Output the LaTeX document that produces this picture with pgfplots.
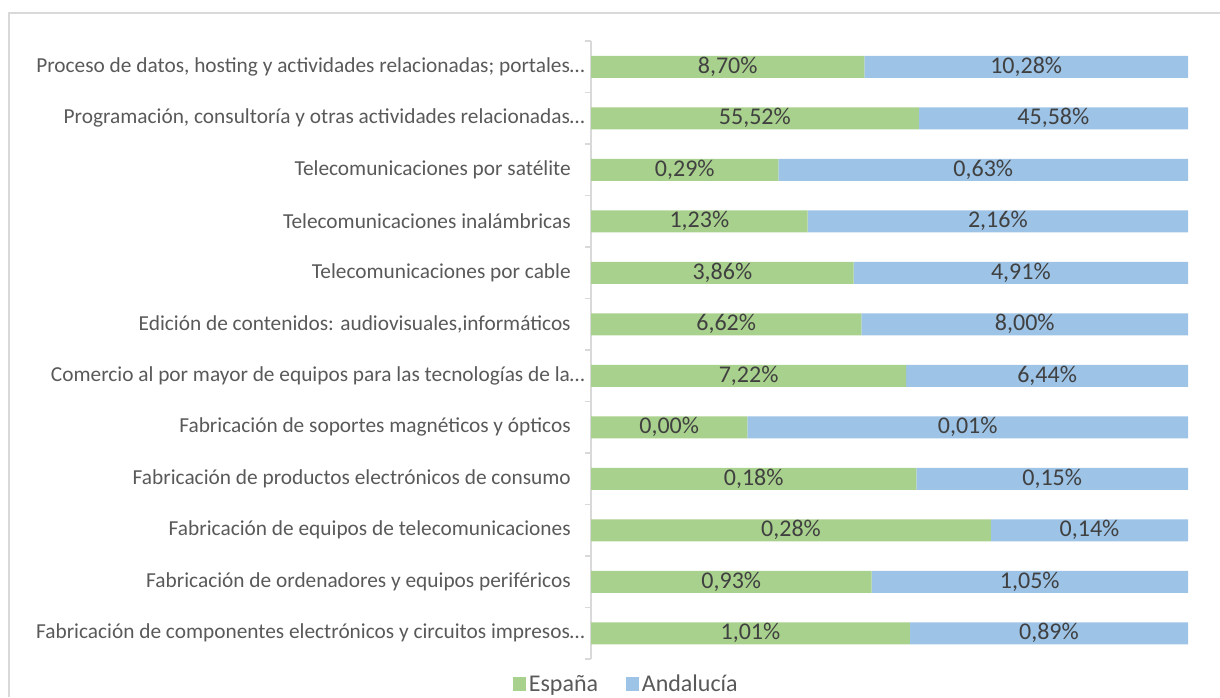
\documentclass[border=0pt]{standalone}
\usepackage{fontspec}
\setmainfont{Carlito}
\usepackage{pgfplots}
\usepackage{pgfplotstable}
\pgfplotsset{compat=1.18}
\definecolor{Verde}{HTML}{A9D18E}
\definecolor{Azul}{HTML}{9DC3E6}
\definecolor{Texto}{HTML}{404040}
\definecolor{Etiq}{HTML}{595959}
\definecolor{Linea}{HTML}{D9D9D9}
\newcommand\fs{\fontsize{16}{19}\selectfont}
\newcommand\fd{\fontsize{18}{21}\selectfont}
\newcommand\tr{\hspace*{10.5pt}}

% cuota de cada serie en la barra (100 %), centro de cada tramo y dato rotulado
\pgfplotstableread{
y  esp    and    espm    andm    lesp   land
0  0.458  0.542  0.229   0.729   8,70   10,28
1  0.549  0.451  0.2745  0.7745  55,52  45,58
2  0.314  0.686  0.157   0.657   0,29   0,63
3  0.363  0.637  0.1815  0.6815  1,23   2,16
4  0.440  0.560  0.220   0.720   3,86   4,91
5  0.453  0.547  0.2265  0.7265  6,62   8,00
6  0.528  0.472  0.264   0.764   7,22   6,44
7  0.262  0.738  0.131   0.631   0,00   0,01
8  0.545  0.455  0.2725  0.7725  0,18   0,15
9  0.670  0.330  0.335   0.835   0,28   0,14
10 0.470  0.530  0.235   0.735   0,93   1,05
11 0.534  0.466  0.267   0.767   1,01   0,89
}\datos

\pgfplotsset{marco/.style={
  at={(443.25pt,-494.25pt)}, anchor=south west,
  scale only axis, width=447.75pt, height=463.5pt,
  xmin=0, xmax=1, ymin=-0.5, ymax=11.5, y dir=reverse}}

\begin{document}
\begin{tikzpicture}[x=0.75pt,y=-0.75pt]
\path[use as bounding box] (0,0) rectangle (1220,697);
\draw[Linea, line width=1.1pt] (9,697) -- (9,13) -- (1220,13);

\begin{axis}[marco,
  xbar stacked, bar width=16.5pt,
  axis x line=none, axis y line*=left,
  y axis line style={Linea, line width=1.1pt, -},
  ytick={0,...,11},
  yticklabels={
    {Proceso de datos, hosting y actividades relacionadas; portales…},
    {Programación, consultoría y otras actividades relacionadas…},
    {Telecomunicaciones por satélite\tr},
    {Telecomunicaciones inalámbricas\tr},
    {Telecomunicaciones por cable\tr},
    {Edición de contenidos: audiovisuales,informáticos\tr},
    {Comercio al por mayor de equipos para las tecnologías de la…},
    {Fabricación de soportes magnéticos y ópticos\tr},
    {Fabricación de productos electrónicos de consumo\tr},
    {Fabricación de equipos de telecomunicaciones\tr},
    {Fabricación de ordenadores y equipos periféricos\tr},
    {Fabricación de componentes electrónicos y circuitos impresos…}},
  minor ytick={-0.5,0.5,...,11.5},
  major tick length=0pt, minor tick length=4.5pt,
  tick align=outside, ytick pos=left,
  tick style={Linea, line width=1.1pt},
  yticklabel style={font=\fs, text=Etiq, inner sep=0pt, anchor=east, xshift=-4.5pt},
  legend columns=2,
  legend style={at={(0.06,0)}, anchor=center, yshift=-18.75pt,
    draw=none, fill=none, font=\fd, text=Etiq,
    nodes={inner sep=2pt},
    /tikz/every even column/.append style={column sep=19pt}},
  legend image code/.code={\fill[#1] (0pt,-4.9pt) rectangle (9.75pt,4.9pt);},
]
\addplot[fill=Verde, draw=none] table[x=esp, y=y]{\datos};
\addlegendentry{España}
\addplot[fill=Azul, draw=none] table[x=and, y=y]{\datos};
\addlegendentry{Andalucía}
\end{axis}

\begin{axis}[marco, hide axis,
  every node near coord/.style={anchor=center, font=\fd, text=Texto, inner sep=0pt},
  nodes near coords={\pgfplotspointmeta\%}, point meta=explicit symbolic]
\addplot[draw=none, mark=none] table[x=espm, y=y, meta=lesp]{\datos};
\addplot[draw=none, mark=none] table[x=andm, y=y, meta=land]{\datos};
\end{axis}
\end{tikzpicture}
\end{document}
